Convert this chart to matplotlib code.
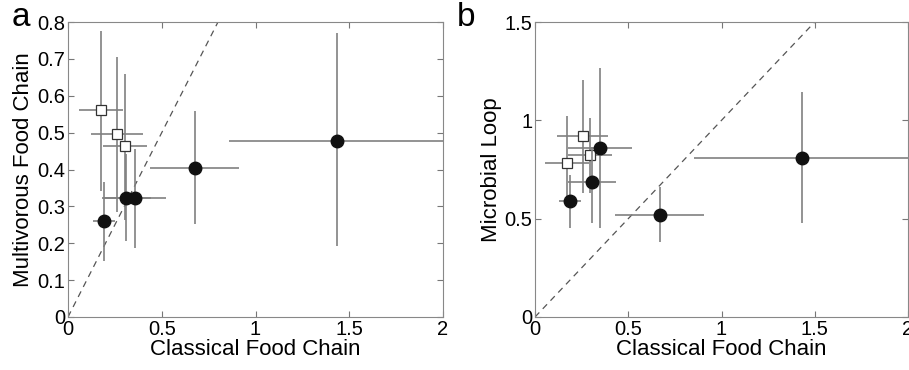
import numpy as np
import matplotlib
matplotlib.use("Agg")
import matplotlib.pyplot as plt

plt.rcParams['font.family'] = ['Liberation Sans', 'DejaVu Sans']

# panel a: classical vs multivorous
a_sq_x = [0.177, 0.262, 0.303]
a_sq_xlo = [0.061, 0.124, 0.186]
a_sq_xhi = [0.293, 0.399, 0.419]
a_sq_y = [0.560, 0.496, 0.463]
a_sq_ylo = [0.342, 0.286, 0.262]
a_sq_yhi = [0.776, 0.706, 0.659]

a_ci_x = [0.193, 0.310, 0.357, 0.675, 1.434]
a_ci_xlo = [0.132, 0.182, 0.190, 0.436, 0.858]
a_ci_xhi = [0.250, 0.440, 0.525, 0.911, 2.100]
a_ci_y = [0.260, 0.323, 0.323, 0.405, 0.478]
a_ci_ylo = [0.152, 0.206, 0.188, 0.251, 0.193]
a_ci_yhi = [0.367, 0.442, 0.456, 0.559, 0.769]

# panel b: classical vs microbial loop
b_sq_x = [0.173, 0.255, 0.296]
b_sq_xlo = [0.055, 0.116, 0.175]
b_sq_xhi = [0.289, 0.394, 0.412]
b_sq_y = [0.781, 0.919, 0.822]
b_sq_ylo = [0.600, 0.629, 0.630]
b_sq_yhi = [1.022, 1.205, 1.010]

b_ci_x = [0.186, 0.307, 0.349, 0.668, 1.431]
b_ci_xlo = [0.128, 0.178, 0.178, 0.431, 0.852]
b_ci_xhi = [0.244, 0.435, 0.520, 0.905, 2.100]
b_ci_y = [0.588, 0.688, 0.858, 0.519, 0.810]
b_ci_ylo = [0.454, 0.476, 0.451, 0.380, 0.479]
b_ci_yhi = [0.722, 0.866, 1.264, 0.659, 1.142]


def err(c, lo, hi):
    c = np.array(c)
    return [c - np.array(lo), np.array(hi) - c]


def panel(ax, sq, ci, ymax, yticks, ylabel, letter, letter_px):
    ax.plot([0, 2], [0, 2], ls=(0, (5, 4)), color='#555555', lw=0.9, zorder=1)
    ax.errorbar(sq[0], sq[3], xerr=err(sq[0], sq[1], sq[2]),
                yerr=err(sq[3], sq[4], sq[5]), fmt='s', ms=7,
                mfc='white', mec='#333333', mew=0.9, ecolor='#808080',
                elinewidth=1.2, capsize=0, zorder=3)
    ax.errorbar(ci[0], ci[3], xerr=err(ci[0], ci[1], ci[2]),
                yerr=err(ci[3], ci[4], ci[5]), fmt='o', ms=9,
                mfc='#111111', mec='#111111', ecolor='#808080',
                elinewidth=1.2, capsize=0, zorder=4)
    ax.set_xlim(0, 2)
    ax.set_ylim(0, ymax)
    ax.set_xticks([0, 0.5, 1, 1.5, 2], labels=['0', '0.5', '1', '1.5', '2'])
    ax.set_yticks(yticks, labels=[('%g' % t) for t in yticks])
    ax.tick_params(direction='in', top=True, right=True, length=4,
                   labelsize=14.5, color='#777777', pad=2)
    for s in ax.spines.values():
        s.set_color('#888888')
    ax.set_xlabel('Classical Food Chain', fontsize=16, labelpad=0)
    ax.set_ylabel(ylabel, fontsize=16, labelpad=2)
    ax.figure.text(letter_px / 909, 1 - 17 / 370, letter, fontsize=24,
                   ha='center', va='center')


fig = plt.figure(figsize=(9.09, 3.70), dpi=100)
ax1 = fig.add_axes([68 / 909, 53 / 370, 375 / 909, 295 / 370])
ax2 = fig.add_axes([535 / 909, 53 / 370, 373 / 909, 295 / 370])

panel(ax1, (a_sq_x, a_sq_xlo, a_sq_xhi, a_sq_y, a_sq_ylo, a_sq_yhi),
      (a_ci_x, a_ci_xlo, a_ci_xhi, a_ci_y, a_ci_ylo, a_ci_yhi),
      0.8, [0, 0.1, 0.2, 0.3, 0.4, 0.5, 0.6, 0.7, 0.8],
      'Multivorous Food Chain', 'a', 21)
panel(ax2, (b_sq_x, b_sq_xlo, b_sq_xhi, b_sq_y, b_sq_ylo, b_sq_yhi),
      (b_ci_x, b_ci_xlo, b_ci_xhi, b_ci_y, b_ci_ylo, b_ci_yhi),
      1.5, [0, 0.5, 1, 1.5], 'Microbial Loop', 'b', 466)

fig.savefig('out.png', dpi=100)
